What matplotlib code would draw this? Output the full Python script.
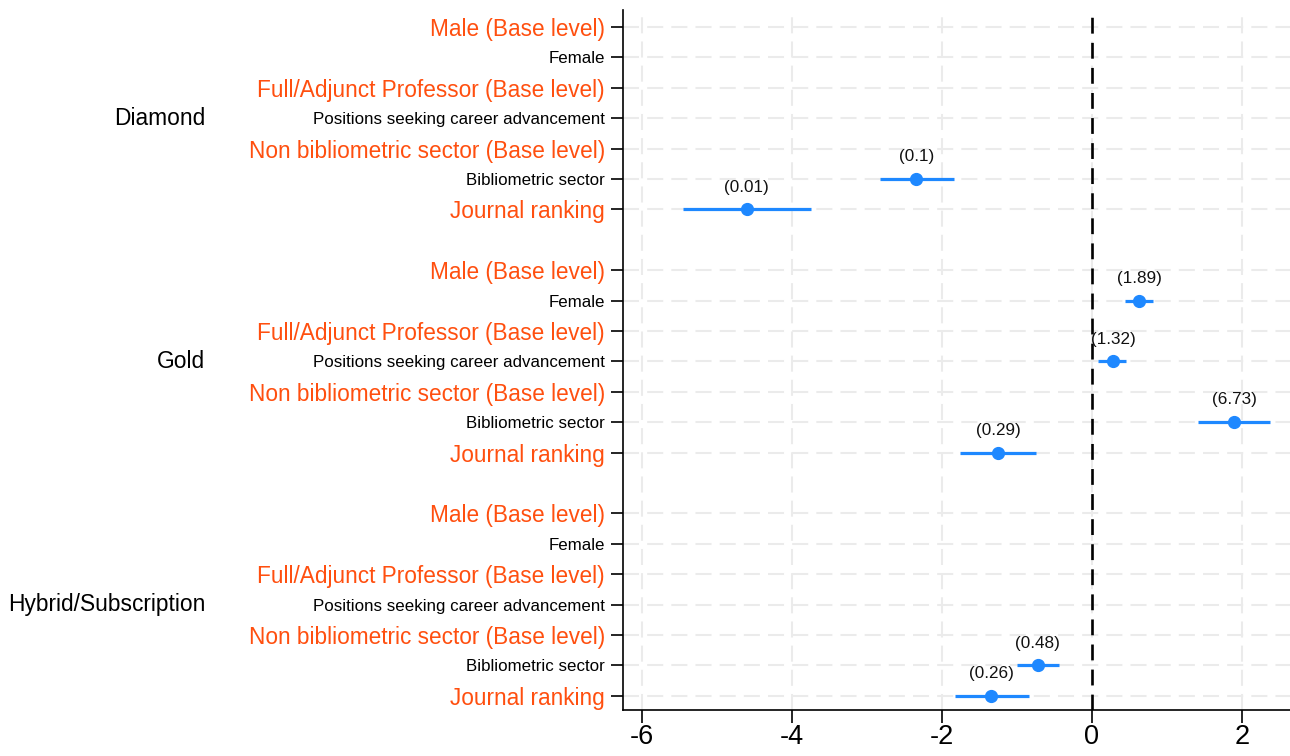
import numpy as np
import matplotlib
matplotlib.use("Agg")
import matplotlib.pyplot as plt
import matplotlib.transforms as mtransforms

plt.rcParams['font.family'] = ['Liberation Sans', 'DejaVu Sans']

groups = ["Diamond", "Gold", "Hybrid/Subscription"]
row_labels = ["Male (Base level)", "Female", "Full/Adjunct Professor (Base level)",
              "Positions seeking career advancement", "Non bibliometric sector (Base level)",
              "Bibliometric sector", "Journal ranking"]
row_highlight = [True, False, True, False, True, False, True]

nan = np.nan
# log-odds estimates with 95% CI, per group (rows in the order of row_labels)
est_diamond = [nan, nan, nan, nan, nan, -2.34, -4.60]
lo_diamond = [nan, nan, nan, nan, nan, -2.83, -5.45]
hi_diamond = [nan, nan, nan, nan, nan, -1.84, -3.75]
or_diamond = [None, None, None, None, None, "(0.1)", "(0.01)"]

est_gold = [nan, 0.63, nan, 0.28, nan, 1.90, -1.25]
lo_gold = [nan, 0.44, nan, 0.08, nan, 1.42, -1.76]
hi_gold = [nan, 0.81, nan, 0.46, nan, 2.37, -0.75]
or_gold = [None, "(1.89)", None, "(1.32)", None, "(6.73)", "(0.29)"]

est_hybrid = [nan, nan, nan, nan, nan, -0.72, -1.34]
lo_hybrid = [nan, nan, nan, nan, nan, -1.00, -1.83]
hi_hybrid = [nan, nan, nan, nan, nan, -0.44, -0.84]
or_hybrid = [None, None, None, None, None, "(0.48)", "(0.26)"]

x_ticks = [-6, -4, -2, 0, 2]

orange = "#FF4F0F"
blue = "#1E88FF"

fig = plt.figure(figsize=(12.9, 7.56), dpi=100)
ax = fig.add_axes([0.483, 0.061, 0.517, 0.926])

all_est = [est_diamond, est_gold, est_hybrid]
all_lo = [lo_diamond, lo_gold, lo_hybrid]
all_hi = [hi_diamond, hi_gold, hi_hybrid]
all_or = [or_diamond, or_gold, or_hybrid]

ypos, ylabels, ycolors = [], [], []
n = len(row_labels)
trans = mtransforms.blended_transform_factory(fig.transFigure, ax.transData)
for g in range(len(groups)):
    base = g * (n + 1)
    for i in range(n):
        y = base + i
        ypos.append(y)
        ylabels.append(row_labels[i])
        ycolors.append(row_highlight[i])
        e = all_est[g][i]
        if not np.isnan(e):
            ax.plot([all_lo[g][i], all_hi[g][i]], [y, y], color=blue, lw=2.3, zorder=3,
                    solid_capstyle='butt')
            ax.plot(e, y, 'o', color=blue, ms=8.5, zorder=4)
            ax.annotate(all_or[g][i], (e, y), xytext=(0, 16), textcoords='offset points',
                        ha='center', va='center', fontsize=12.3, color='#111111')
    # group label
    ax.text(205 / 1290, base + 3, groups[g], transform=trans, ha='right', va='center',
            fontsize=16.4, color='black')

ax.axvline(0, color='black', lw=1.9, dashes=(6, 3.5), zorder=2)

ax.set_yticks(ypos)
ax.set_yticklabels(ylabels)
for lab, hl in zip(ax.get_yticklabels(), ycolors):
    if hl:
        lab.set_color(orange)
        lab.set_fontsize(16.3)
    else:
        lab.set_color('black')
        lab.set_fontsize(12.2)

ax.set_xticks(x_ticks)
ax.set_xticklabels([str(t) for t in x_ticks], fontsize=19.5)
ax.set_xlim(-6.25, 2.64)
ax.set_ylim(22.46, -0.56)

ax.grid(True, color='#EBEBEB', lw=1.5, dashes=(7.7, 3.9))
ax.set_axisbelow(True)
for s in ['top', 'right']:
    ax.spines[s].set_visible(False)
ax.spines['left'].set_linewidth(1.2)
ax.spines['bottom'].set_linewidth(1.2)
ax.tick_params(axis='both', length=9, width=1.2, color='black')
ax.tick_params(axis='y', pad=4)
ax.tick_params(axis='x', pad=1.5)

fig.savefig("out.png", dpi=100)
